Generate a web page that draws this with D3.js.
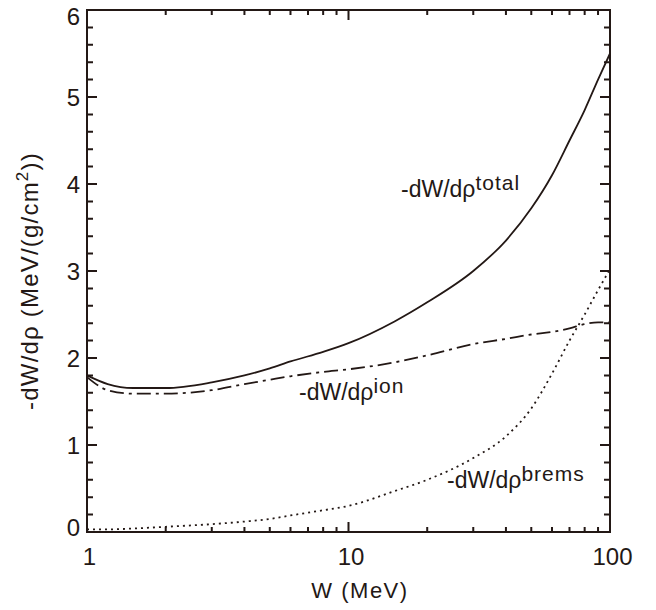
<!DOCTYPE html>
<html>
<head>
<meta charset="utf-8">
<script src="https://cdn.jsdelivr.net/npm/d3@7"></script>
<style>
  body { margin: 0; background: #fff; }
  svg { font-family: "Liberation Sans", Arial, sans-serif; }
  .curve { fill: none; stroke: #231815; stroke-width: 1.8; }
  .frame { fill: none; stroke: #231815; stroke-width: 2; }
  text { fill: #231815; }
</style>
</head>
<body>
<svg id="chart" width="656" height="610"></svg>
<script>
// Energy grid (MeV)
const energy = [1, 1.2, 1.5, 2, 3, 4, 5, 6, 8, 10, 15, 20, 30, 40, 50, 60, 70, 80, 90, 100];
// Stopping powers, MeV/(g/cm2)
const total = [1.80, 1.70, 1.655, 1.655, 1.72, 1.80, 1.88, 1.96, 2.07, 2.17, 2.42, 2.64, 3.0, 3.35, 3.72, 4.1, 4.5, 4.85, 5.2, 5.5];
const ion = [1.78, 1.63, 1.59, 1.59, 1.63, 1.70, 1.75, 1.79, 1.84, 1.87, 1.95, 2.03, 2.16, 2.22, 2.27, 2.30, 2.34, 2.39, 2.41, 2.41];
const brems = [0.03, 0.03, 0.04, 0.06, 0.09, 0.12, 0.15, 0.19, 0.25, 0.30, 0.47, 0.60, 0.85, 1.10, 1.42, 1.82, 2.2, 2.5, 2.78, 3.02];

const xTicks = [1, 10, 100];
const yTicks = [0, 1, 2, 3, 4, 5, 6];

const svg = d3.select("#chart");
const mLeft = 87, mRight = 610, mTop = 10, mBottom = 532;
const ink = "#231815";

const x = d3.scaleLog().domain([1, 100]).range([mLeft, mRight]);
const y = d3.scaleLinear().domain([0, 6]).range([mBottom, mTop]);

// minor ticks
const xMinor = [];
[1, 10].forEach(d => { for (let k = 2; k <= 9; k++) xMinor.push(d * k); });
const yMinor = d3.range(0, 6.01, 0.2).filter(v => Math.abs(v - Math.round(v)) > 0.01);

// inward tick marks on all four sides
const tickPath = d3.path();
function xTick(v, len) {
  tickPath.moveTo(x(v), mBottom); tickPath.lineTo(x(v), mBottom - len);
  tickPath.moveTo(x(v), mTop); tickPath.lineTo(x(v), mTop + len);
}
function yTick(v, len) {
  tickPath.moveTo(mLeft, y(v)); tickPath.lineTo(mLeft + len, y(v));
  tickPath.moveTo(mRight, y(v)); tickPath.lineTo(mRight - len, y(v));
}
xMinor.forEach(v => xTick(v, 5));
xTick(10, 10);
yMinor.forEach(v => yTick(v, 6));
yTicks.forEach(v => yTick(v, 10));

svg.append("rect").attr("class", "frame")
  .attr("x", mLeft).attr("y", mTop)
  .attr("width", mRight - mLeft).attr("height", mBottom - mTop);

svg.append("path")
  .attr("d", tickPath.toString())
  .attr("fill", "none")
  .attr("stroke", ink)
  .attr("stroke-width", 2);

// tick labels
svg.append("g")
  .attr("transform", `translate(2,${mBottom})`)
  .call(d3.axisBottom(x).tickValues(xTicks).tickSize(0).tickPadding(16).tickFormat(d3.format("d")))
  .call(g => g.select(".domain").remove())
  .call(g => g.selectAll("text").attr("font-size", 24).attr("font-family", "Liberation Sans, Arial, sans-serif").attr("fill", ink));
svg.append("g")
  .attr("transform", `translate(${mLeft},0)`)
  .call(d3.axisLeft(y).tickValues(yTicks).tickSize(0).tickPadding(7).tickFormat(d3.format("d")))
  .call(g => g.select(".domain").remove())
  .call(g => g.selectAll("text").attr("font-size", 24).attr("font-family", "Liberation Sans, Arial, sans-serif").attr("fill", ink)
    .attr("dy", d => d === 6 ? "0.62em" : d === 0 ? "0.15em" : "0.36em"));

// curves
const line = vals => d3.line()
  .x((d, i) => x(energy[i]))
  .y(d => y(d))
  .curve(d3.curveMonotoneX)(vals);

svg.append("path").attr("class", "curve").attr("d", line(total));
svg.append("path").attr("class", "curve").attr("d", line(ion))
  .attr("stroke-dasharray", "14,5,3,5");
svg.append("path").attr("class", "curve").attr("d", line(brems))
  .attr("stroke-dasharray", "2,4");

// curve labels
function label(xp, yp, sup) {
  const t = svg.append("text").attr("x", xp).attr("y", yp).attr("font-size", 23);
  t.append("tspan").text("-dW/dρ");
  t.append("tspan").attr("font-size", 21).attr("letter-spacing", 1).attr("dy", -7).text(sup);
}
label(401, 197, "total");
label(299, 400, "ion");
label(447, 488, "brems");

// axis titles
svg.append("text")
  .attr("x", 360).attr("y", 598)
  .attr("text-anchor", "middle").attr("font-size", 22).attr("letter-spacing", 1.5)
  .text("W (MeV)");

const yt = svg.append("text")
  .attr("transform", `translate(38,281) rotate(-90)`)
  .attr("text-anchor", "middle").attr("font-size", 24).attr("letter-spacing", 1.2);
yt.append("tspan").text("-dW/dρ  (MeV/(g/cm");
yt.append("tspan").attr("font-size", 17).attr("dy", -10).text("2");
yt.append("tspan").attr("dy", 10).text("))");
</script>
</body>
</html>
